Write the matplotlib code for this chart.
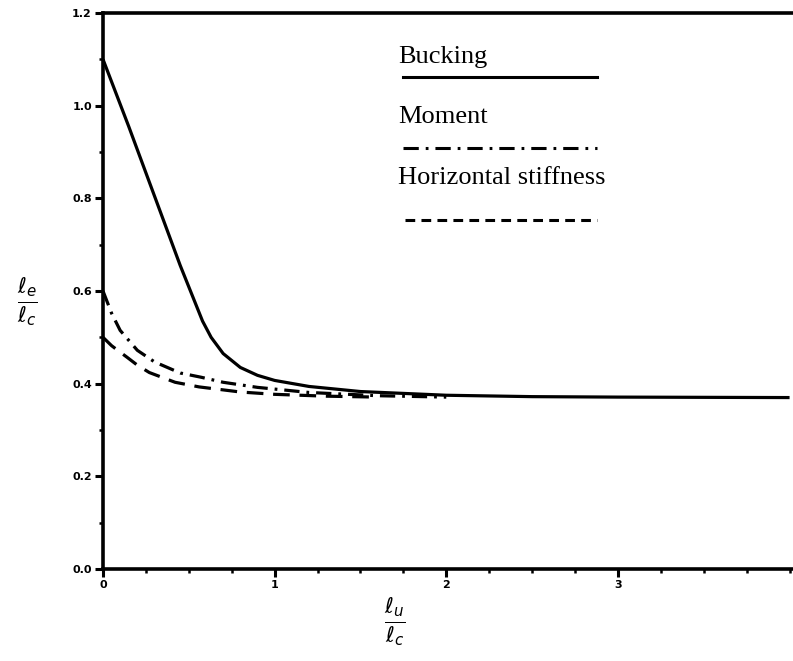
import matplotlib
matplotlib.use("Agg")
import matplotlib.pyplot as plt
from matplotlib.ticker import MultipleLocator, FormatStrFormatter

plt.rcParams['lines.scale_dashes'] = False

# data
buck_x = [0.0, 0.15, 0.2, 0.35, 0.45, 0.58, 0.63, 0.7, 0.8, 0.9, 1.0, 1.2, 1.5, 2.0, 2.5, 3.0, 4.0]
buck_y = [1.10, 0.955, 0.905, 0.755, 0.655, 0.535, 0.500, 0.465, 0.435, 0.418, 0.407, 0.394, 0.383, 0.375, 0.372, 0.371, 0.370]
mom_x = [0.0, 0.05, 0.1, 0.2, 0.3, 0.45, 0.57, 0.7, 0.9, 1.2, 1.6, 2.0]
mom_y = [0.60, 0.552, 0.515, 0.472, 0.447, 0.423, 0.414, 0.403, 0.392, 0.381, 0.374, 0.371]
hor_x = [0.0, 0.05, 0.1, 0.14, 0.2, 0.27, 0.42, 0.56, 0.8, 1.0, 1.3, 1.6]
hor_y = [0.50, 0.482, 0.468, 0.457, 0.440, 0.424, 0.403, 0.393, 0.382, 0.377, 0.373, 0.371]
legend_labels = ["Bucking", "Moment", "Horizontal stiffness"]
xticks = [0, 1, 2, 3]
yticks = [0.0, 0.2, 0.4, 0.6, 0.8, 1.0, 1.2]

fig = plt.figure(figsize=(7.93, 6.61), dpi=100)
ax = fig.add_axes([103/793, (661-569)/661, 690/793, 556/661])

lw = 2.3
ax.plot(buck_x, buck_y, color='black', lw=lw, solid_capstyle='butt')
ax.plot(mom_x, mom_y, color='black', lw=lw, dashes=[11, 5, 2, 5])
ax.plot(hor_x, hor_y, color='black', lw=lw, dashes=[12, 7])

ax.set_xlim(0, 4.02)
ax.set_ylim(0, 1.2)
ax.set_xticks(xticks)
ax.set_yticks(yticks)
ax.xaxis.set_minor_locator(MultipleLocator(0.25))
ax.yaxis.set_minor_locator(MultipleLocator(0.1))
ax.yaxis.set_major_formatter(FormatStrFormatter('%.1f'))
ax.tick_params(which='major', direction='out', length=6, width=2.2, labelsize=8, pad=2)
ax.tick_params(which='minor', direction='out', length=3, width=1.8)
for lab in ax.get_xticklabels() + ax.get_yticklabels():
    lab.set_fontweight('bold')

for s in ['left', 'bottom', 'top']:
    ax.spines[s].set_linewidth(2.6)
ax.spines['right'].set_visible(False)

# legend (text above line samples)
fs = 19
ax.text(0.4275, 0.921, legend_labels[0], transform=ax.transAxes, fontsize=fs,
        family='Liberation Serif', va='center', ha='left')
ax.plot([0.435, 0.716], [0.885, 0.885], transform=ax.transAxes, color='black', lw=2.2)
ax.text(0.4275, 0.813, legend_labels[1], transform=ax.transAxes, fontsize=fs,
        family='Liberation Serif', va='center', ha='left')
ax.plot([0.435, 0.716], [0.757, 0.757], transform=ax.transAxes, color='black', lw=2.2,
        dashes=[11, 5, 2, 5])
ax.text(0.4275, 0.703, legend_labels[2], transform=ax.transAxes, fontsize=fs,
        family='Liberation Serif', va='center', ha='left')
ax.plot([0.437, 0.716], [0.628, 0.628], transform=ax.transAxes, color='black', lw=2.2,
        dashes=[7, 4.5])

# axis labels as fractions
fig.text(27/793, 1 - 302/661, r'$\frac{\ell_e}{\ell_c}$', fontsize=22, ha='center', va='center')
fig.text(395/793, 1 - 622/661, r'$\frac{\ell_u}{\ell_c}$', fontsize=22, ha='center', va='center')

fig.savefig('out.png', dpi=100)
